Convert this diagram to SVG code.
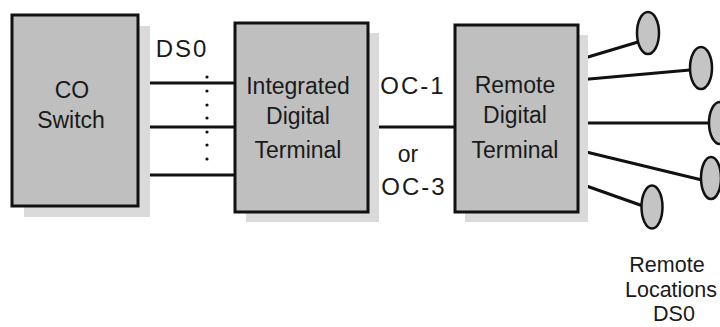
<svg xmlns="http://www.w3.org/2000/svg" width="720" height="327" viewBox="0 0 720 327">
<style>
.box{fill:#bfbfbf;stroke:#111;stroke-width:3}
.shadow{fill:#dadada;stroke:none}
.ln{stroke:#111;stroke-width:3;fill:none}
.ell{fill:#c4c4c4;stroke:#111;stroke-width:2.5}
.t{font-family:"Liberation Sans",Arial,sans-serif;font-size:23px;fill:#1a1a1a;text-anchor:middle}
.sp{font-size:24px;letter-spacing:2px}
.sm{font-size:21.5px}
.dot{fill:#111}
</style>
<rect width="720" height="327" fill="#fff"/>
<g id="connectors">
<line class="ln" x1="138" y1="83" x2="235" y2="83"/>
<line class="ln" x1="138" y1="127" x2="235" y2="127"/>
<line class="ln" x1="138" y1="175" x2="235" y2="175"/>
<line class="ln" x1="368" y1="127" x2="455" y2="127"/>
<line class="ln" x1="578" y1="60" x2="638" y2="42"/>
<line class="ln" x1="578" y1="80" x2="690" y2="70"/>
<line class="ln" x1="578" y1="123" x2="709" y2="123"/>
<line class="ln" x1="578" y1="150" x2="702" y2="180"/>
<line class="ln" x1="578" y1="183" x2="643" y2="206"/>
<g id="dots">
<circle class="dot" cx="207" cy="77" r="1.6"/>
<circle class="dot" cx="207" cy="91" r="1.6"/>
<circle class="dot" cx="207" cy="105" r="1.6"/>
<circle class="dot" cx="207" cy="118" r="1.6"/>
<circle class="dot" cx="207" cy="132" r="1.6"/>
<circle class="dot" cx="207" cy="145" r="1.6"/>
<circle class="dot" cx="207" cy="159" r="1.6"/>
</g>
<text class="t sp" x="182" y="57">DS0</text>
<text class="t sp" x="413" y="94">OC-1</text>
<text class="t" x="408" y="162">or</text>
<text class="t sp" x="414" y="195">OC-3</text>
</g>
<g id="co-switch">
<rect class="shadow" x="24" y="26" width="126" height="191"/>
<rect class="box" x="12" y="15" width="126" height="191"/>
<text class="t" x="72" y="98">CO</text>
<text class="t" x="71" y="128">Switch</text>
</g>
<g id="idt">
<rect class="shadow" x="246" y="33" width="133" height="189"/>
<rect class="box" x="235" y="23" width="133" height="189"/>
<text class="t" x="298" y="94">Integrated</text>
<text class="t" x="298" y="124">Digital</text>
<text class="t" x="298" y="158">Terminal</text>
</g>
<g id="rdt">
<rect class="shadow" x="465" y="35" width="123" height="187"/>
<rect class="box" x="455" y="25" width="123" height="187"/>
<text class="t" x="515" y="93">Remote</text>
<text class="t" x="515" y="123">Digital</text>
<text class="t" x="515" y="158">Terminal</text>
</g>
<g id="remote-locations">
<ellipse class="ell" cx="648" cy="33" rx="11" ry="21"/>
<ellipse class="ell" cx="701" cy="68" rx="11" ry="21"/>
<ellipse class="ell" cx="720" cy="123" rx="11" ry="21"/>
<ellipse class="ell" cx="711" cy="178" rx="10" ry="21"/>
<ellipse class="ell" cx="652" cy="207" rx="10.5" ry="21.5"/>
<text class="t sm" x="667" y="272">Remote</text>
<text class="t sm" x="671" y="297">Locations</text>
<text class="t sm" x="674" y="321">DS0</text>
</g>
</svg>
